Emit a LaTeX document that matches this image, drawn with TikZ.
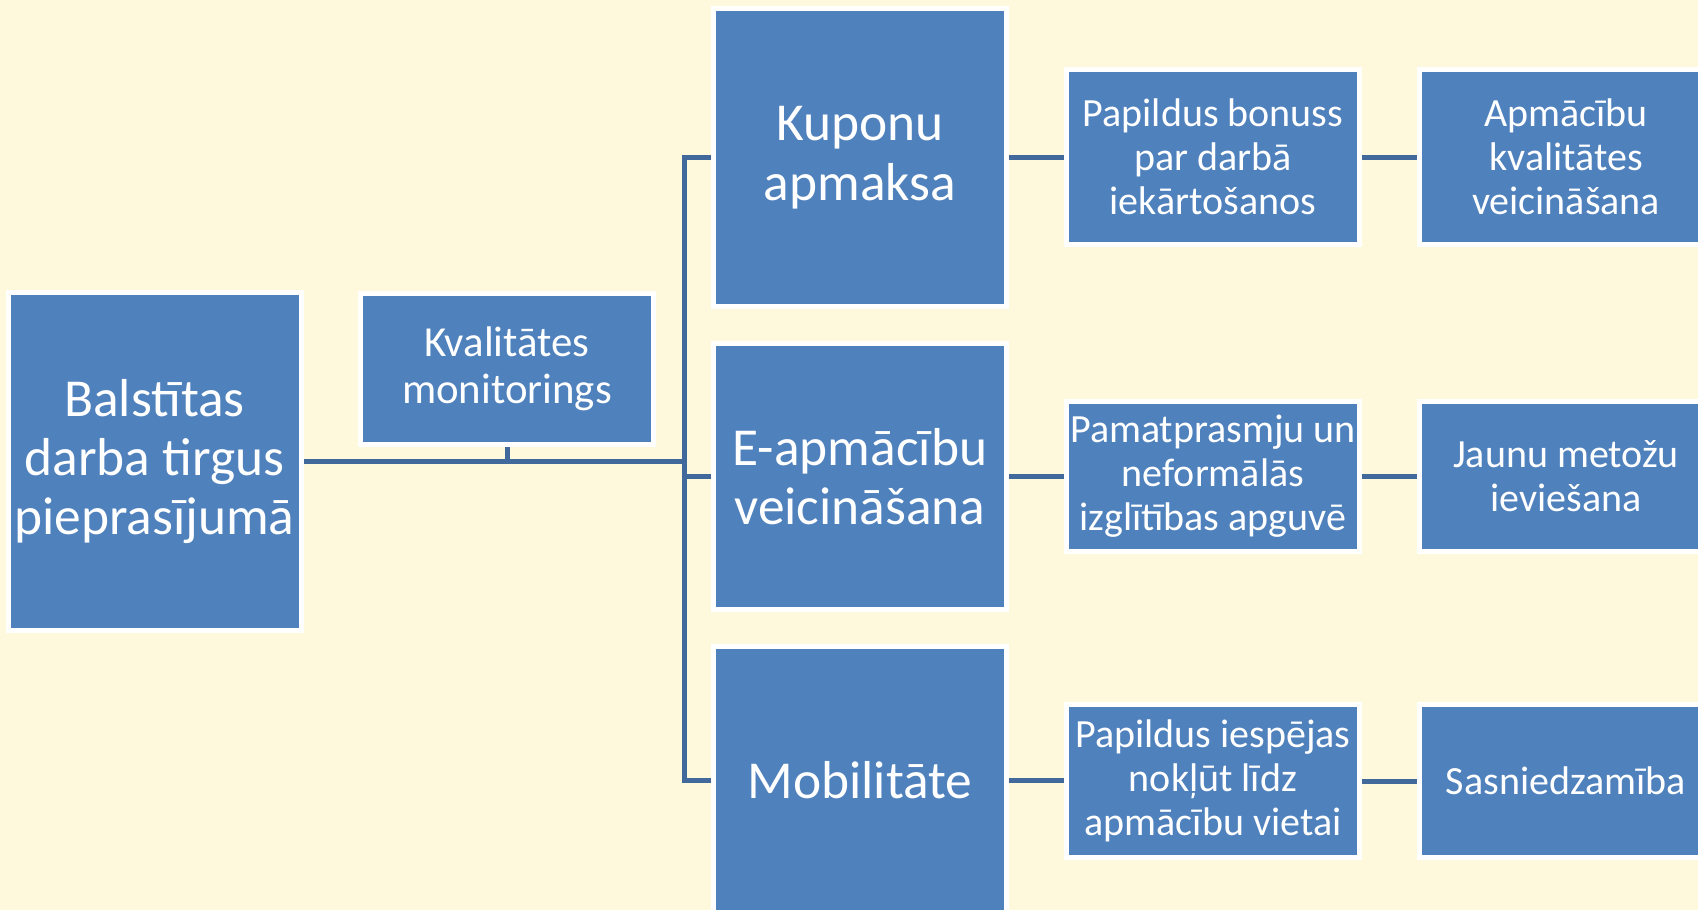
\documentclass[tikz,border=0pt]{standalone}
\usepackage{fontspec}
\setmainfont{Carlito}
\usepackage{xcolor}
\definecolor{bgyellow}{HTML}{FEF8DC}
\definecolor{boxblue}{HTML}{4F81BD}
\definecolor{linkblue}{HTML}{41699C}

\tikzset{
  box/.style={rectangle, draw=white, line width=2.5pt, fill=boxblue, text=white,
    align=center, inner sep=0pt, minimum width=146.5pt},
  bigtext/.style={font=\fontsize{26.7pt}{29.7pt}\selectfont},
  midtext/.style={font=\fontsize{21.4pt}{23.4pt}\selectfont},
  smalltext/.style={font=\fontsize{20pt}{22pt}\selectfont},
  link/.style={draw=linkblue, line width=2.5pt}
}

\begin{document}
\begin{tikzpicture}[x=0.5pt, y=-0.5pt]
      \fill[bgyellow] (0, 0) rectangle (1698, 910);
      \useasboundingbox (0, 0) rectangle (1698, 910);

      % left part
      \node (demand) [box, bigtext, minimum height=169pt] at (154.5, 461.5) {%
        Balstītas\\darba tirgus\\pieprasījumā%
      };
      \node (monitor) [box, midtext, minimum height=75.5pt] at (507, 369) {%
        Kvalitātes\\monitorings%
      };
      \coordinate (spine) at (684.5, 0);

      % main column
      \node (coupon) [box, bigtext, minimum height=149pt] at (860, 157.5) {%
        Kuponu\\apmaksa%
      };
      \node (elearn) [box, bigtext, minimum height=133pt] at (860, 476.5) {%
        E-apmācību\\veicināšana%
      };
      \node (mobility) [box, bigtext, minimum height=133.5pt] at (860, 780) {%
        Mobilitāte%
      };

      % second column
      \node (bonus) [box, smalltext, minimum height=87.5pt] at (1213, 157) {%
        Papildus bonuss\\par darbā\\iekārtošanos%
      };
      \node (basics) [box, smalltext, minimum height=75pt] at (1213, 476.5) {%
        Pamatprasmju un\\neformālās\\izglītības apguvē%
      };
      \node (access) [box, smalltext, minimum height=76.5pt] at (1213, 781) {%
        Papildus iespējas\\nokļūt līdz\\apmācību vietai%
      };

      % third column
      \node (quality) [box, smalltext, minimum height=87.5pt] at (1566, 157) {%
        Apmācību\\kvalitātes\\veicināšana%
      };
      \node (methods) [box, smalltext, minimum height=75pt] at (1566, 476.5) {%
        Jaunu metožu\\ieviešana%
      };
      \node (reach) [box, smalltext, minimum height=76.5pt] at (1566, 781) {%
        Sasniedzamība%
      };

      \draw[link] (demand.east) -- (demand.east -| spine);
      \draw[link] (monitor.south) -- (monitor.south |- demand.east);
      \draw[link] (coupon.west) -- (coupon.west -| spine) -- (mobility.west -| spine) -- (mobility.west);
      \draw[link] (elearn.west) -- (elearn.west -| spine);

      \draw[link] (coupon.east) -- (coupon.east -| bonus.west);
      \draw[link] (bonus.east) -- (quality.west);
      \draw[link] (elearn.east) -- (elearn.east -| basics.west);
      \draw[link] (basics.east) -- (methods.west);
      \draw[link] (mobility.east) -- (mobility.east -| access.west);
      \draw[link] (access.east) -- (reach.west);
\end{tikzpicture}
\end{document}
